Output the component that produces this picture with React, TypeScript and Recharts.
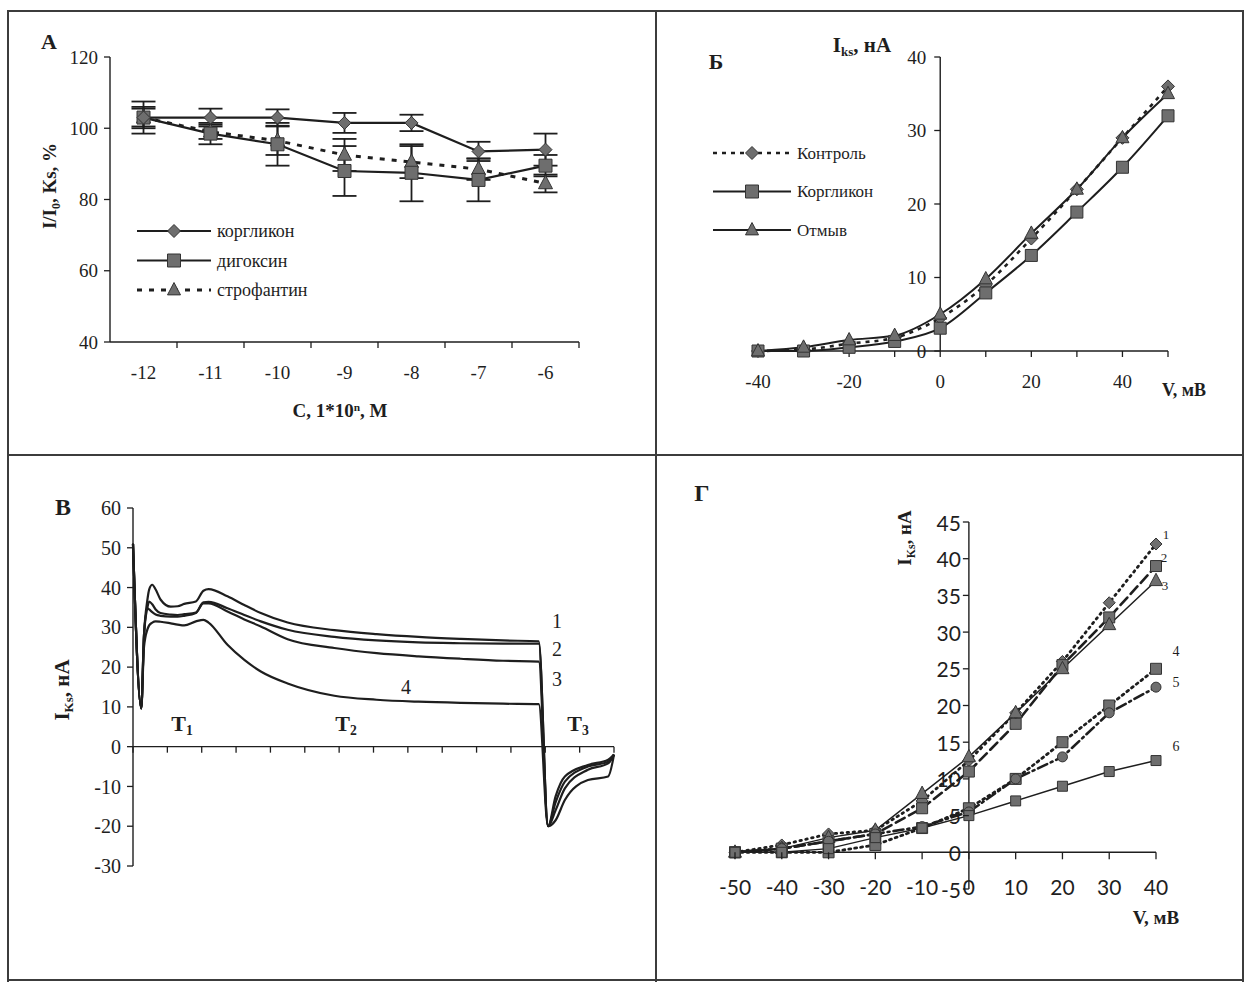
import React from "react"
import { LineChart, Line, XAxis, YAxis, ErrorBar, ReferenceLine } from "recharts"

const SERIF = '"Liberation Serif", "DejaVu Serif", serif'
const SANS = 'Lato, "Open Sans", sans-serif'
const INK = "#1e1e1e"
const MARK_FILL = "#6e6e6e"
const MARK_EDGE = "#333"

// A: I/I0 vs log concentration
const concA = [-12, -11, -10, -9, -8, -7, -6]
const korglikonA = [103, 103, 103, 101.5, 101.5, 93.5, 94]
const korglikonErrA = [3, 2.5, 2.3, 2.8, 2.3, 2.7, 4.5]
const digoxinA = [103, 98.5, 95.5, 88, 87.5, 85.5, 89.5]
const digoxinErrA = [4.5, 3, 6, 7, 8, 6, 3]
const strophA = [103, 99, 96.5, 92.5, 90.5, 88.5, 84.5]
const strophErrA = [2.5, 2, 4, 4.5, 4.5, 3, 2.5]
const yTicksA = [40, 60, 80, 100, 120]

// Б: I-V curves
const voltB = [-40, -30, -20, -10, 0, 10, 20, 30, 40, 50]
const controlB = [0, 0.2, 1, 1.8, 4.5, 9, 15.3, 22, 29, 36]
const korglikonB = [0, 0, 0.5, 1.3, 3.1, 7.9, 13, 18.9, 25, 32]
const washB = [0, 0.5, 1.5, 2.1, 5, 9.8, 16, 22, 29, 35]
const xTicksB = [-40, -30, -20, -10, 0, 10, 20, 30, 40, 50]
const yTicksB = [0, 10, 20, 30, 40]

// В: current traces (time in tick units)
const timeV = [0, 0.24, 0.32, 0.42, 0.47, 0.56, 0.66, 0.8, 1.1, 1.3, 1.49, 1.83, 2.05, 2.2, 2.75, 3.24, 3.72, 4.5, 5.86, 7.09, 8.31, 9.54, 10.77, 11.81, 12.08, 12.3, 12.57, 13.24, 13.83, 14]
const trace1 = [51, 9.6, 28, 37, 39.5, 40.7, 39.5, 37, 35.2, 35.3, 35.9, 36.5, 39.2, 39.6, 37.8, 35.6, 33.6, 31.2, 29.3, 28.3, 27.6, 27.1, 26.7, 26.5, -20, -18.5, -13.4, -8.4, -7.5, -2]
const trace2 = [51, 9.6, 28, 35, 36.5, 35.8, 34.5, 33.6, 33.2, 33.1, 33.3, 33.7, 36.3, 36.4, 34.8, 33.1, 31.5, 29.4, 27.6, 26.7, 26.2, 26, 25.9, 25.9, -20, -16, -10.5, -5.8, -4.2, -2]
const trace3 = [51, 9.6, 28, 34.8, 34.5, 33.8, 33.2, 32.9, 32.7, 32.7, 32.9, 33.6, 36, 36, 34, 32, 30.2, 27, 24.8, 23.5, 22.7, 22.1, 21.6, 21.4, -20, -14, -8.8, -5, -3.8, -2]
const trace4 = [51, 9.6, 25, 29.5, 30.5, 31.2, 31.5, 31.4, 31, 30.7, 30.5, 31.5, 31.9, 31.2, 25.6, 21.8, 18.9, 15.9, 12.8, 11.8, 11.3, 11, 10.8, 10.7, -20, -12.5, -7.5, -4.6, -3.3, -2]
const xTicksV = [0, 1, 2, 3, 4, 5, 6, 7, 8, 9, 10, 11, 12, 13, 14]
const yTicksV = [-30, -20, -10, 0, 10, 20, 30, 40, 50, 60]

// Г: I-V curves, six conditions
const voltG = [-50, -40, -30, -20, -10, 0, 10, 20, 30, 40]
const curveG1 = [0, 1, 2.5, 3, 7, 12.5, 19, 26, 34, 42]
const curveG2 = [0, 0.5, 1.5, 2.5, 6, 11, 17.5, 25.5, 32, 39]
const curveG3 = [0, 0.5, 2, 3, 8, 13, 19, 25, 31, 37]
const curveG4 = [0, 0, 0, 1, 3.3, 6, 10, 15, 20, 25]
const curveG5 = [0, 0.5, 1.5, 2.5, 3.5, 5.5, 10, 13, 19, 22.5]
const curveG6 = [0, 0, 0.5, 2, 3.3, 5, 7, 9, 11, 12.5]
const xTicksG = [-50, -40, -30, -20, -10, 0, 10, 20, 30, 40]
const yTicksG = [-5, 0, 5, 10, 15, 20, 25, 30, 35, 40, 45]

const dataA = concA.map((c, i) => ({
  c,
  kor: korglikonA[i], korErr: korglikonErrA[i],
  dig: digoxinA[i], digErr: digoxinErrA[i],
  str: strophA[i], strErr: strophErrA[i],
}))
const dataB = voltB.map((v, i) => ({ v, ctl: controlB[i], kor: korglikonB[i], wash: washB[i] }))
const dataV = timeV.map((t, i) => ({ t, a: trace1[i], b: trace2[i], c: trace3[i], d: trace4[i] }))
const dataG = voltG.map((v, i) => ({
  v, g1: curveG1[i], g2: curveG2[i], g3: curveG3[i], g4: curveG4[i], g5: curveG5[i], g6: curveG6[i],
}))

type Shape = "diamond" | "square" | "triangle" | "circle"

function shapePath(shape: Shape, cx: number, cy: number, s: number) {
  if (shape === "diamond") return `M${cx},${cy - s}L${cx + s},${cy}L${cx},${cy + s}L${cx - s},${cy}Z`
  if (shape === "square") return `M${cx - s},${cy - s}H${cx + s}V${cy + s}H${cx - s}Z`
  if (shape === "triangle") return `M${cx},${cy - s * 1.15}L${cx + s},${cy + s * 0.75}L${cx - s},${cy + s * 0.75}Z`
  return `M${cx - s},${cy}a${s},${s} 0 1,0 ${2 * s},0a${s},${s} 0 1,0 ${-2 * s},0`
}

const marker = (shape: Shape, s: number) => (p: any) => {
  const { cx, cy, index } = p
  if (cx == null || cy == null) return <g key={index} />
  return <path key={index} d={shapePath(shape, cx, cy, s)} fill={MARK_FILL} stroke={MARK_EDGE} strokeWidth={1} />
}

// ---------- panel A
const plotA = { left: 110, right: 579, bottom: 342 }
const halfBandA = (plotA.right - plotA.left) / concA.length / 2

const TickA = (p: any) => (
  <g>
    <line x1={p.x + halfBandA} x2={p.x + halfBandA} y1={plotA.bottom} y2={plotA.bottom + 6} stroke={INK} strokeWidth={1.3} />
    <text x={p.x} y={plotA.bottom + 30} textAnchor="middle" dominantBaseline="central" fontSize={19} fontFamily={SERIF} fill={INK}>
      {p.payload.value}
    </text>
  </g>
)

function PanelA() {
  return (
    <LineChart width={640} height={450} data={dataA} margin={{ top: 57, right: 61, bottom: 48, left: 50 }}>
      <XAxis dataKey="c" type="number" domain={[-12.5, -5.5]} ticks={concA} interval={0} height={60}
        tickLine={false} axisLine={{ stroke: INK, strokeWidth: 1.4 }} tick={TickA} />
      <YAxis type="number" domain={[40, 120]} ticks={yTicksA} interval={0} width={60} tickSize={6} tickMargin={6}
        axisLine={{ stroke: INK, strokeWidth: 1.4 }} tickLine={{ stroke: INK, strokeWidth: 1.3 }}
        tick={{ fontSize: 19, fontFamily: SERIF, fill: INK }} />
      <Line dataKey="str" type="linear" stroke={INK} strokeWidth={3} strokeDasharray="5 7" dot={marker("triangle", 7)} isAnimationActive={false}>
        <ErrorBar dataKey="strErr" direction="y" width={12} stroke={INK} strokeWidth={1.8} />
      </Line>
      <Line dataKey="dig" type="linear" stroke={INK} strokeWidth={2.2} dot={marker("square", 6.5)} isAnimationActive={false}>
        <ErrorBar dataKey="digErr" direction="y" width={12} stroke={INK} strokeWidth={1.8} />
      </Line>
      <Line dataKey="kor" type="linear" stroke={INK} strokeWidth={2.2} dot={marker("diamond", 6.5)} isAnimationActive={false}>
        <ErrorBar dataKey="korErr" direction="y" width={12} stroke={INK} strokeWidth={1.8} />
      </Line>
    </LineChart>
  )
}

// ---------- panel Б
const plotB = { left: 103, width: 410 }
const zeroXB = plotB.left + ((0 - -40) / 90) * plotB.width

const YTickB = (p: any) => (
  <g>
    <line x1={zeroXB - 6} x2={zeroXB} y1={p.y} y2={p.y} stroke={INK} strokeWidth={1.3} />
    <text x={zeroXB - 14} y={p.y} textAnchor="end" dominantBaseline="central" fontSize={19} fontFamily={SERIF} fill={INK}>
      {p.payload.value}
    </text>
  </g>
)

function PanelB() {
  return (
    <LineChart width={590} height={450} data={dataB} margin={{ top: 57, right: 77, bottom: 59, left: 102 }}>
      <XAxis dataKey="v" type="number" domain={[-40, 50]} ticks={xTicksB} interval={0} height={40} tickSize={6} tickMargin={18}
        axisLine={{ stroke: INK, strokeWidth: 1.4 }} tickLine={{ stroke: INK, strokeWidth: 1.3 }}
        tickFormatter={(v: number) => (v % 20 === 0 && v < 50 ? String(v) : "")}
        tick={{ fontSize: 19, fontFamily: SERIF, fill: INK }} />
      <YAxis type="number" domain={[0, 40]} ticks={yTicksB} interval={0} width={1} axisLine={false} tickLine={false} tick={YTickB} />
      <ReferenceLine x={0} stroke={INK} strokeWidth={1.4} />
      <Line dataKey="ctl" type="monotone" stroke={INK} strokeWidth={2.6} strokeDasharray="4 5" dot={marker("diamond", 6.5)} isAnimationActive={false} />
      <Line dataKey="kor" type="monotone" stroke={INK} strokeWidth={2} dot={marker("square", 6)} isAnimationActive={false} />
      <Line dataKey="wash" type="monotone" stroke={INK} strokeWidth={2} dot={marker("triangle", 6.5)} isAnimationActive={false} />
    </LineChart>
  )
}

// ---------- panel В
const plotV = { top: 53, height: 358 }
const zeroYV = plotV.top + (60 / 90) * plotV.height

const XTickV = (p: any) => (
  <line x1={p.x} x2={p.x} y1={zeroYV} y2={zeroYV + 6} stroke={INK} strokeWidth={1.3} />
)

function PanelV() {
  return (
    <LineChart width={648} height={527} data={dataV} margin={{ top: 53, right: 41, bottom: 115, left: 66 }}>
      <XAxis dataKey="t" type="number" domain={[0, 14]} ticks={xTicksV} interval={0} height={1} axisLine={false} tickLine={false} tick={XTickV} />
      <YAxis type="number" domain={[-30, 60]} ticks={yTicksV} interval={0} width={60} tickSize={6} tickMargin={6}
        axisLine={{ stroke: INK, strokeWidth: 1.4 }} tickLine={{ stroke: INK, strokeWidth: 1.3 }}
        tick={{ fontSize: 20, fontFamily: SERIF, fill: INK }} />
      <ReferenceLine y={0} stroke={INK} strokeWidth={1.4} />
      {["a", "b", "c", "d"].map((k) => (
        <Line key={k} dataKey={k} type="monotone" stroke={INK} strokeWidth={2.2} dot={false} isAnimationActive={false} />
      ))}
    </LineChart>
  )
}

// ---------- panel Г
const plotG = { left: 80, width: 421, top: 67, height: 367 }
const zeroXG = plotG.left + ((0 - -50) / 90) * plotG.width
const zeroYG = plotG.top + (45 / 50) * plotG.height

const XTickG = (p: any) => (
  <g>
    <line x1={p.x} x2={p.x} y1={zeroYG} y2={zeroYG + 7} stroke={INK} strokeWidth={1.3} />
    <text x={p.x} y={zeroYG + 34} textAnchor="middle" dominantBaseline="central" fontSize={21} fontFamily={SANS} fill={INK}>
      {p.payload.value}
    </text>
  </g>
)

const YTickG = (p: any) => (
  <g>
    <line x1={zeroXG - 6} x2={zeroXG} y1={p.y} y2={p.y} stroke={INK} strokeWidth={1.3} />
    <text x={zeroXG - 8} y={p.y} textAnchor="end" dominantBaseline="central" fontSize={21} fontFamily={SANS} fill={INK}>
      {p.payload.value}
    </text>
  </g>
)

const seriesG = [
  { key: "g1", shape: "diamond" as Shape, size: 6, dash: "1.5 4.5", width: 2.8 },
  { key: "g2", shape: "square" as Shape, size: 5.5, dash: "10 5", width: 2.6 },
  { key: "g3", shape: "triangle" as Shape, size: 6.5, dash: undefined, width: 1.5 },
  { key: "g4", shape: "square" as Shape, size: 5.5, dash: "2 4", width: 2.8 },
  { key: "g5", shape: "circle" as Shape, size: 5, dash: "10 4 2 4", width: 2.6 },
  { key: "g6", shape: "square" as Shape, size: 5, dash: undefined, width: 1.5 },
]

function PanelG() {
  return (
    <LineChart width={590} height={527} data={dataG} margin={{ top: 67, right: 89, bottom: 92, left: 79 }}>
      <XAxis dataKey="v" type="number" domain={[-50, 40]} ticks={xTicksG} interval={0} height={1} axisLine={false} tickLine={false} tick={XTickG} />
      <YAxis type="number" domain={[-5, 45]} ticks={yTicksG} interval={0} width={1} axisLine={false} tickLine={false} tick={YTickG} />
      <ReferenceLine y={0} stroke={INK} strokeWidth={1.4} />
      <ReferenceLine x={0} stroke={INK} strokeWidth={1.4} />
      {seriesG.map((s) => (
        <Line key={s.key} dataKey={s.key} type="linear" stroke={INK} strokeWidth={s.width} strokeDasharray={s.dash}
          strokeLinecap="round" dot={marker(s.shape, s.size)} isAnimationActive={false} />
      ))}
    </LineChart>
  )
}

// ---------- text and frame helpers
function Txt({ x, y, size = 18, bold = false, rotate = false, family = SERIF, children }: any) {
  return (
    <div style={{
      position: "absolute", left: x, top: y, transform: `translate(-50%, -50%)${rotate ? " rotate(-90deg)" : ""}`,
      fontFamily: family, fontSize: size, fontWeight: bold ? 700 : 400, color: INK, whiteSpace: "nowrap", lineHeight: 1,
    }}>
      {children}
    </div>
  )
}

const Sub = ({ children }: any) => (
  <span style={{ fontSize: "0.62em", position: "relative", top: "0.3em" }}>{children}</span>
)
const Sup = ({ children }: any) => (
  <span style={{ fontSize: "0.6em", position: "relative", top: "-0.55em" }}>{children}</span>
)

type LegendRow = { label: string; shape: Shape; dash?: string; width: number }

function LegendBox({ x, y, rows, step, lineLen, size }: { x: number; y: number; rows: LegendRow[]; step: number; lineLen: number; size: number }) {
  return (
    <svg style={{ position: "absolute", left: x, top: y }} width={260} height={rows.length * step + 10}>
      {rows.map((r, i) => {
        const cy = 12 + i * step
        return (
          <g key={r.label}>
            <line x1={4} x2={4 + lineLen} y1={cy} y2={cy} stroke={INK} strokeWidth={r.width} strokeDasharray={r.dash} />
            <path d={shapePath(r.shape, 4 + lineLen / 2, cy, 6.5)} fill={MARK_FILL} stroke={MARK_EDGE} strokeWidth={1} />
            <text x={lineLen + 10} y={cy} dominantBaseline="central" fontSize={size} fontFamily={SERIF} fill={INK}>{r.label}</text>
          </g>
        )
      })}
    </svg>
  )
}

const legendRowsA: LegendRow[] = [
  { label: "коргликон", shape: "diamond", width: 2.2 },
  { label: "дигоксин", shape: "square", width: 2.2 },
  { label: "строфантин", shape: "triangle", dash: "5 7", width: 3 },
]
const legendRowsB: LegendRow[] = [
  { label: "Контроль", shape: "diamond", dash: "4 5", width: 2.6 },
  { label: "Коргликон", shape: "square", width: 2 },
  { label: "Отмыв", shape: "triangle", width: 2 },
]

const line = (left: number, top: number, width: number, height: number) => (
  <div style={{ position: "absolute", left, top, width, height, background: "#3c3c3c" }} />
)

export default function App() {
  return (
    <div style={{ position: "absolute", left: 0, top: 0, width: 1248, height: 982, background: "#fff", overflow: "hidden" }}>
      {line(7, 10, 1237, 2)}
      {line(7, 10, 2, 972)}
      {line(1242, 10, 2, 972)}
      {line(655, 10, 2, 972)}
      {line(7, 454, 1237, 2)}
      {line(7, 979, 1237, 2)}

      <div style={{ position: "absolute", left: 0, top: 0 }}><PanelA /></div>
      <div style={{ position: "absolute", left: 655, top: 0 }}><PanelB /></div>
      <div style={{ position: "absolute", left: 7, top: 455 }}><PanelV /></div>
      <div style={{ position: "absolute", left: 655, top: 455 }}><PanelG /></div>

      {/* A */}
      <Txt x={49} y={42} size={22} bold>A</Txt>
      <Txt x={49} y={186} size={19} bold rotate>I/I<Sub>0</Sub>, Ks, %</Txt>
      <Txt x={340} y={410} size={19} bold>C, 1*10<Sup>n</Sup>, M</Txt>
      <LegendBox x={133} y={219} rows={legendRowsA} step={29.5} lineLen={74} size={18} />

      {/* Б */}
      <Txt x={716} y={62} size={22} bold>Б</Txt>
      <Txt x={862} y={45} size={21} bold>I<Sub>ks</Sub>, нА</Txt>
      <Txt x={1184} y={390} size={18} bold>V, мВ</Txt>
      <LegendBox x={709} y={141} rows={legendRowsB} step={38.5} lineLen={78} size={17} />

      {/* В */}
      <Txt x={63} y={507} size={24} bold>B</Txt>
      <Txt x={62} y={690} size={21} bold rotate>I<Sub>Ks</Sub>, нА</Txt>
      <Txt x={182} y={724} size={22} bold>T<Sub>1</Sub></Txt>
      <Txt x={346} y={724} size={22} bold>T<Sub>2</Sub></Txt>
      <Txt x={578} y={724} size={22} bold>T<Sub>3</Sub></Txt>
      <Txt x={557} y={621} size={20}>1</Txt>
      <Txt x={557} y={649} size={20}>2</Txt>
      <Txt x={557} y={679} size={20}>3</Txt>
      <Txt x={406} y={687} size={20}>4</Txt>

      {/* Г */}
      <Txt x={702} y={493} size={24} bold>Г</Txt>
      <Txt x={904} y={538} size={19} bold rotate>I<Sub>Ks</Sub>, нА</Txt>
      <Txt x={1156} y={917} size={19} bold>V, мВ</Txt>
      <Txt x={1166} y={534} size={13}>1</Txt>
      <Txt x={1164} y={557} size={13}>2</Txt>
      <Txt x={1165} y={585} size={13}>3</Txt>
      <Txt x={1176} y={652} size={14}>4</Txt>
      <Txt x={1176} y={683} size={14}>5</Txt>
      <Txt x={1176} y={747} size={14}>6</Txt>
    </div>
  )
}
